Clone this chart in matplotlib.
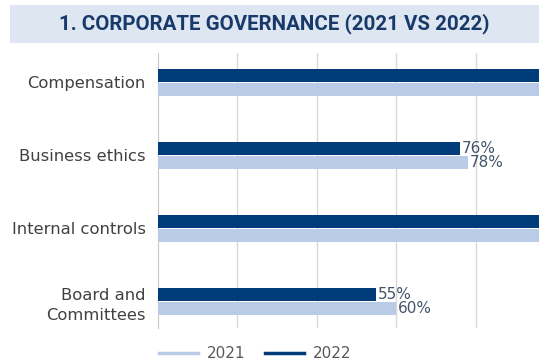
import numpy as np
import matplotlib
matplotlib.use('Agg')
import matplotlib.pyplot as plt
from matplotlib.patches import Rectangle
from matplotlib.lines import Line2D

# corporate governance scores, share of companies (%)
categories = ['Compensation', 'Business ethics', 'Internal controls', 'Board and\nCommittees']
values_2021 = [100, 78, 100, 60]
values_2022 = [100, 76, 100, 55]
series_names = ['2021', '2022']

LIGHT = '#b9cbe6'
DARK = '#003c7a'
TEXT = '#404040'
LABEL = '#44546a'
XMAX = 96

fig = plt.figure(figsize=(5.39, 3.61), dpi=100)

# title band
fig.add_artist(Rectangle((10/539, 1-43/361), 529/539, 38/361, transform=fig.transFigure,
                         facecolor='#dde6f1', edgecolor='none'))
fig.text(274/539, 1-24/361, '1. CORPORATE GOVERNANCE (2021 VS 2022)', ha='center', va='center',
         fontsize=14.8, fontweight='bold', color='#183a6a', family='Roboto')

ax = fig.add_axes([158/539, 1-328/361, 1-158/539, (328-53)/361])

y = np.arange(len(categories))
h = 0.171
off = 0.095
b22 = ax.barh(y - off, values_2022, height=h, color=DARK, zorder=3, label=series_names[1])
b21 = ax.barh(y + off, values_2021, height=h, color=LIGHT, zorder=3, label=series_names[0])

# value labels only where the bar end is inside the plot
for bars, vals in ((b22, values_2022), (b21, values_2021)):
    for bar, v in zip(bars, vals):
        if v >= XMAX:
            continue
        ax.text(v + 0.5, bar.get_y() + bar.get_height()/2, f'{v}%', va='center', ha='left',
                fontsize=11, color=LABEL)

ax.set_xlim(0, XMAX)
ax.set_ylim(3.363, -0.404)
ax.set_xticks([20, 40, 60, 80])
ax.set_xticklabels([])
ax.tick_params(axis='x', length=0)
ax.grid(axis='x', color='#d9d9d9', linewidth=1, zorder=0)
ax.set_yticks(y)
ax.set_yticklabels(categories, fontsize=11.8, color=TEXT, linespacing=1.45)
ax.tick_params(axis='y', length=0, pad=9)
for s in ['top', 'right', 'bottom']:
    ax.spines[s].set_visible(False)
ax.spines['left'].set_color('#c8c8c8')

handles = [Line2D([], [], color=LIGHT, lw=2.5), Line2D([], [], color=DARK, lw=2.5)]
fig.legend(handles, series_names, loc='center left', bbox_to_anchor=(145/539, 1-354/361),
           ncol=2, frameon=False, fontsize=11, labelcolor='#595959', handlelength=2.55,
           columnspacing=1.3, handletextpad=0.6)

fig.savefig('out.png', dpi=100)
